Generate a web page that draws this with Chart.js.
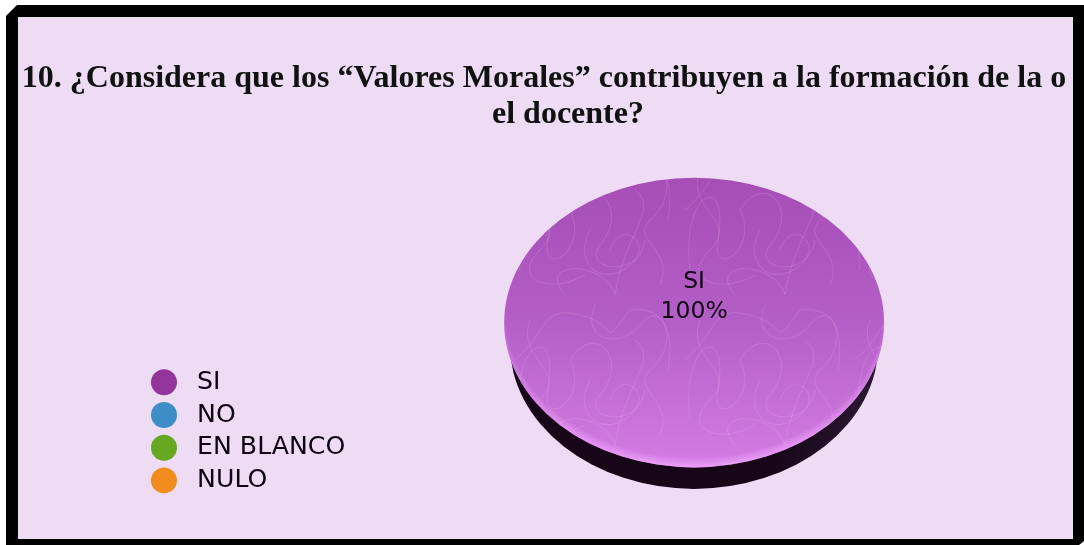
<!DOCTYPE html>
<html>
<head>
<meta charset="utf-8">
<style>
  html, body { margin: 0; padding: 0; background: #fff; overflow: hidden; width: 1084px; height: 545px; }
  #frame {
    position: absolute; left: 6px; top: 5px; width: 1078px; height: 546px;
    box-sizing: border-box; background: #eedcf5;
    border: solid #000; border-width: 12px 11px 12px 12px;
    clip-path: polygon(11px 0, 100% 0, 100% 536px, 1073px 540px, 0 540px, 0 11px);
  }
  #chart { position: absolute; left: 0; top: 0; }
</style>
</head>
<body>
<div id="frame"></div>
<canvas id="chart" width="1084" height="545"></canvas>
<script src="https://cdn.jsdelivr.net/npm/chart.js@4"></script>
<script>
// leading spaces: the second line sits right of centre in the original
const titleLines = ["10. ¿Considera que los “Valores Morales” contribuyen a la formación de la o", "      el docente?"];
const categories = ["SI", "NO", "EN BLANCO", "NULO"];
const values = [100, 0, 0, 0];
const legendColors = ["#93359b", "#3f8dc6", "#67a823", "#f28c1e"];

const squash = 0.7625;

// faint scribble texture on top of the pie
const makeTile = () => {
  const c = document.createElement("canvas");
  c.width = 170;
  c.height = 150;
  const g = c.getContext("2d");
  g.strokeStyle = "rgba(255,255,255,0.12)";
  g.lineWidth = 1;
  const loops = [
    [10, 120, 0, 40, 50, 20, 38, 90, 30, 130, 80, 100, 60, 60],
    [60, 60, 85, 20, 120, 60, 90, 95, 70, 120, 130, 130, 135, 90],
    [5, 60, 40, 30, 30, 5, 70, 15, 110, 25, 90, 50, 120, 10],
    [55, 145, 25, 110, 95, 110, 105, 145, 115, 80, 150, 60, 125, 40],
    [120, 10, 165, 5, 165, 50, 140, 70, 120, 90, 165, 100, 150, 135],
    [20, 20, 5, 60, 60, 70, 30, 100, 0, 130, 40, 145, 75, 125],
    [85, 5, 70, 40, 110, 50, 130, 25, 150, 0, 165, 30, 158, 70],
    [80, 80, 60, 120, 100, 140, 125, 110, 140, 90, 110, 70, 100, 100]
  ];
  loops.forEach(p => {
    g.beginPath();
    g.moveTo(p[0], p[1]);
    g.bezierCurveTo(p[2], p[3], p[4], p[5], p[6], p[7]);
    g.bezierCurveTo(p[8], p[9], p[10], p[11], p[12], p[13]);
    g.stroke();
  });
  return c;
};
const tile = makeTile();

const tiltPie = {
  id: "tiltPie",
  afterLayout(chart) {
    // title runs over the full width, legend sits lower than the library puts it
    chart.titleBlock.left = 0;
    chart.titleBlock.right = 1088;
    chart.titleBlock.top = 60.5;
    chart.legend.top -= 12;
    chart.legend.bottom -= 12;
  },
  beforeDatasetsDraw(chart) {
    const arc = chart.getDatasetMeta(0).data[0];
    const ctx = chart.ctx;
    const r = arc.outerRadius;
    // dark side of the disc
    const side = ctx.createLinearGradient(arc.x - r, 0, arc.x + r, 0);
    side.addColorStop(0, "#170518");
    side.addColorStop(0.7, "#170518");
    side.addColorStop(1, "#2b1a33");
    ctx.fillStyle = side;
    ctx.beginPath();
    ctx.ellipse(arc.x, arc.y + 21.5, r * 0.97, r * squash, 0, 0, Math.PI * 2);
    ctx.fill();
    ctx.save();
    ctx.translate(arc.x, arc.y);
    ctx.scale(1, squash);
    ctx.translate(-arc.x, -arc.y);
  },
  afterDatasetsDraw(chart) {
    const ctx = chart.ctx;
    const arc = chart.getDatasetMeta(0).data[0];
    const r = arc.outerRadius;
    // bright rim, still in squashed space
    const rim = ctx.createRadialGradient(arc.x, arc.y - r * 0.06, r * 0.99, arc.x, arc.y - r * 0.06, r * 1.06);
    rim.addColorStop(0, "rgba(245,170,255,0)");
    rim.addColorStop(1, "rgba(245,170,255,0.75)");
    ctx.fillStyle = rim;
    ctx.beginPath();
    ctx.arc(arc.x, arc.y, r, 0, Math.PI * 2);
    ctx.fill();
    ctx.restore();

    ctx.save();
    ctx.beginPath();
    ctx.ellipse(arc.x, arc.y, r, r * squash, 0, 0, Math.PI * 2);
    ctx.clip();
    ctx.fillStyle = ctx.createPattern(tile, "repeat");
    ctx.fillRect(arc.x - r, arc.y - r, r * 2, r * 2);
    ctx.restore();

    // data label
    ctx.save();
    ctx.fillStyle = "#0c0410";
    ctx.font = "23.5px 'DejaVu Sans'";
    ctx.textAlign = "center";
    ctx.textBaseline = "middle";
    const total = values.reduce((a, b) => a + b, 0);
    ctx.fillText(categories[0], arc.x, arc.y - 41);
    ctx.fillText(Math.round(values[0] / total * 100) + "%", arc.x, arc.y - 10.5);
    ctx.restore();
  }
};

new Chart(document.getElementById("chart"), {
  type: "pie",
  data: {
    labels: categories,
    datasets: [{
      data: values,
      borderWidth: 0,
      backgroundColor: (c) => {
        const area = c.chart.chartArea;
        if (!area) return legendColors[c.dataIndex];
        const g = c.chart.ctx.createLinearGradient(0, area.top, 0, area.bottom);
        g.addColorStop(0, "#a64db6");
        g.addColorStop(0.5, "#b45ec7");
        g.addColorStop(1, "#d27ce4");
        return g;
      }
    }]
  },
  plugins: [tiltPie],
  options: {
    responsive: false,
    animation: false,
    layout: { padding: { top: 50.5, bottom: 32.5, left: 144, right: 51 } },
    plugins: {
      tooltip: { enabled: false },
      title: {
        display: true,
        text: titleLines,
        color: "#111",
        font: { family: "'Liberation Serif'", weight: "bold", size: 32, lineHeight: 1.125 },
        padding: { top: 0, bottom: 10 }
      },
      legend: {
        position: "left",
        align: "end",
        labels: {
          usePointStyle: true,
          boxHeight: 18.4,
          boxWidth: 25,
          padding: 7.5,
          color: "#0c0410",
          font: { family: "'DejaVu Sans'", size: 25.2 },
          generateLabels: (chart) =>
            Chart.overrides.pie.plugins.legend.labels.generateLabels(chart).map((item, i) => ({
              ...item,
              text: " " + item.text,
              fillStyle: legendColors[i],
              strokeStyle: legendColors[i],
              hidden: false
            }))
        }
      }
    }
  }
});
</script>
</body>
</html>
